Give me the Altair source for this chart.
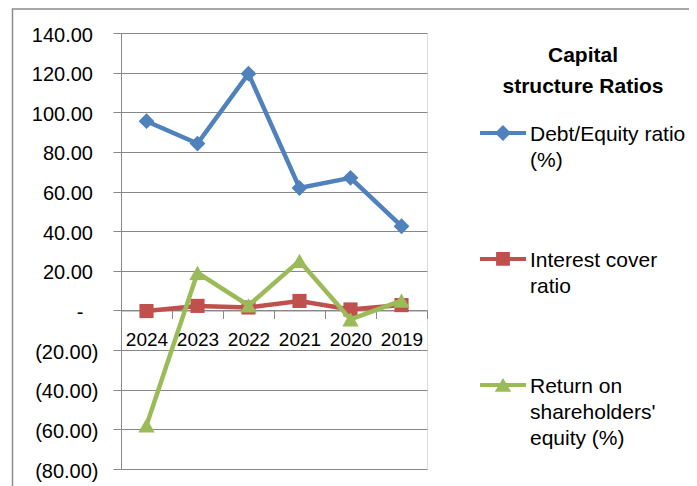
import json
import altair as alt
import pandas as pd

# ---- data ----
years = ["2024", "2023", "2022", "2021", "2020", "2019"]
series_names = ["Debt/Equity ratio (%)", "Interest cover ratio", "Return on shareholders' equity (%)"]
legend_lines = [["Debt/Equity ratio", "(%)"], ["Interest cover", "ratio"], ["Return on", "shareholders'", "equity (%)"]]
debt_equity = [95.5, 84.2, 119.5, 61.8, 66.9, 42.5]
interest_cover = [-0.3, 2.3, 1.5, 4.8, 0.5, 2.7]
roe = [-58.0, 19.0, 2.5, 25.0, -4.5, 5.0]
y_ticks = [-80, -60, -40, -20, 0, 20, 40, 60, 80, 100, 120, 140]
legend_title = ["Capital", "structure Ratios"]

# ---- styles ----
colors = ["#4F81BD", "#C0504D", "#9BBB59"]
shapes = ["diamond", "square", "triangle-up"]
marker_sizes = [250, 200, 270]
FONT = "Liberation Sans"
GRID = "#888888"

W, H = 306, 436
y_min, y_max = y_ticks[0], y_ticks[-1]

rows = []
for name, vals in zip(series_names, [debt_equity, interest_cover, roe]):
    for yr, v in zip(years, vals):
        rows.append({"year": yr, "series": name, "value": v})
df = pd.DataFrame(rows)

x_enc = alt.X(
    "year:N",
    sort=years,
    scale=alt.Scale(type="band", paddingInner=0, paddingOuter=0),
    axis=alt.Axis(
        title=None,
        orient="bottom",
        offset=-H * (0 - y_min) / (y_max - y_min),
        tickBand="extent",
        tickSize=8,
        tickColor=GRID,
        domainColor=GRID,
        labelColor="black",
        labelFont=FONT,
        labelFontSize=19,
        labelPadding=12,
        labelAngle=0,
        grid=False,
    ),
)
# accounting-style labels: trailing spaces kept alive by a zero-width space
y_enc = alt.Y(
    "value:Q",
    scale=alt.Scale(domain=[y_min, y_max], nice=False, zero=False),
    axis=alt.Axis(
        title=None,
        values=y_ticks,
        grid=True,
        gridColor=GRID,
        gridWidth=1,
        tickSize=8,
        tickColor=GRID,
        domainColor=GRID,
        labelColor="black",
        labelFont=FONT,
        labelFontSize=20,
        labelPadding=15,
        labelOffset=2,
        labelExpr=(
            "datum.value == 0 ? '-\u2007\u2009\u200b' : "
            "(datum.value < 0 ? '(' + format(-datum.value, ',.2f') + ')' : format(datum.value, ',.2f') + '\u00a0\u200b')"
        ),
    ),
)

base = alt.Chart(df)

# outer chart border
border = alt.Chart(pd.DataFrame({"b": [0]})).mark_rect(
    fillOpacity=0, stroke="#8C8C8C", strokeWidth=1.5
).encode(
    x=alt.value(12.5 - 121), x2=alt.value(691.5 - 121),
    y=alt.value(9 - 33), y2=alt.value(H + 60),
)

layers = [border]
for name, col, shp, sz in zip(series_names, colors, shapes, marker_sizes):
    sub = base.transform_filter(alt.datum.series == name)
    layers.append(sub.mark_line(color=col, strokeWidth=4.5).encode(x=x_enc, y=y_enc))
    layers.append(
        sub.mark_point(shape=shp, size=sz, filled=True, color=col, opacity=1).encode(x=x_enc, y=y_enc)
    )

# legend symbols: line + marker as custom paths (unit box, 23px per unit)
d = 0.39
t = 0.09
rect = f"M-1,{d - t:.3f}H1V{d + t:.3f}H-1Z"
legend_paths = [
    rect + f"M-0.35,{d:.3f}L0,{d - 0.35:.3f}L0.35,{d:.3f}L0,{d + 0.35:.3f}Z",
    rect + f"M-0.3,{d - 0.3:.3f}H0.3V{d + 0.3:.3f}H-0.3Z",
    rect + f"M0,{d - 0.3:.3f}L0.36,{d + 0.3:.3f}L-0.36,{d + 0.3:.3f}Z",
]

label_map = " : ".join(
    f"datum.label == {json.dumps(n)} ? {json.dumps(l)}" for n, l in zip(series_names, legend_lines)
) + " : datum.label"

legend = alt.Legend(
    orient="none",
    legendX=359,
    legendY=12,
    title=legend_title,
    titleFont=FONT,
    titleFontSize=21,
    titleFontWeight="bold",
    titleColor="black",
    titleAnchor="middle",
    titleAlign="center",
    titleLineHeight=31,
    titlePadding=4,
    titleLimit=400,
    labelFont=FONT,
    labelFontSize=21,
    labelColor="black",
    labelBaseline="top",
    labelLimit=400,
    labelOffset=4,
    labelExpr=label_map,
    rowPadding=56,
    symbolSize=2116,
    symbolOpacity=1,
    symbolStrokeWidth=0,
    padding=0,
)

legend_layer = base.mark_point(filled=True, opacity=0, size=10).encode(
    x=x_enc,
    y=y_enc,
    color=alt.Color("series:N", sort=series_names,
                    scale=alt.Scale(domain=series_names, range=colors), legend=legend),
    shape=alt.Shape("series:N", sort=series_names,
                    scale=alt.Scale(domain=series_names, range=legend_paths), legend=legend),
)
layers.append(legend_layer)

chart = alt.layer(*layers).properties(
    width=W,
    height=H,
    autosize=alt.AutoSizeParams(type="none"),
    padding={"left": 113, "top": 25, "right": 262, "bottom": 17},
    background="white",
).configure_view(stroke=None).configure(
    style={"guide-label": {"lineHeight": 26}}
)

chart.save("out.html", embed_options={"renderer": "svg", "actions": False})
